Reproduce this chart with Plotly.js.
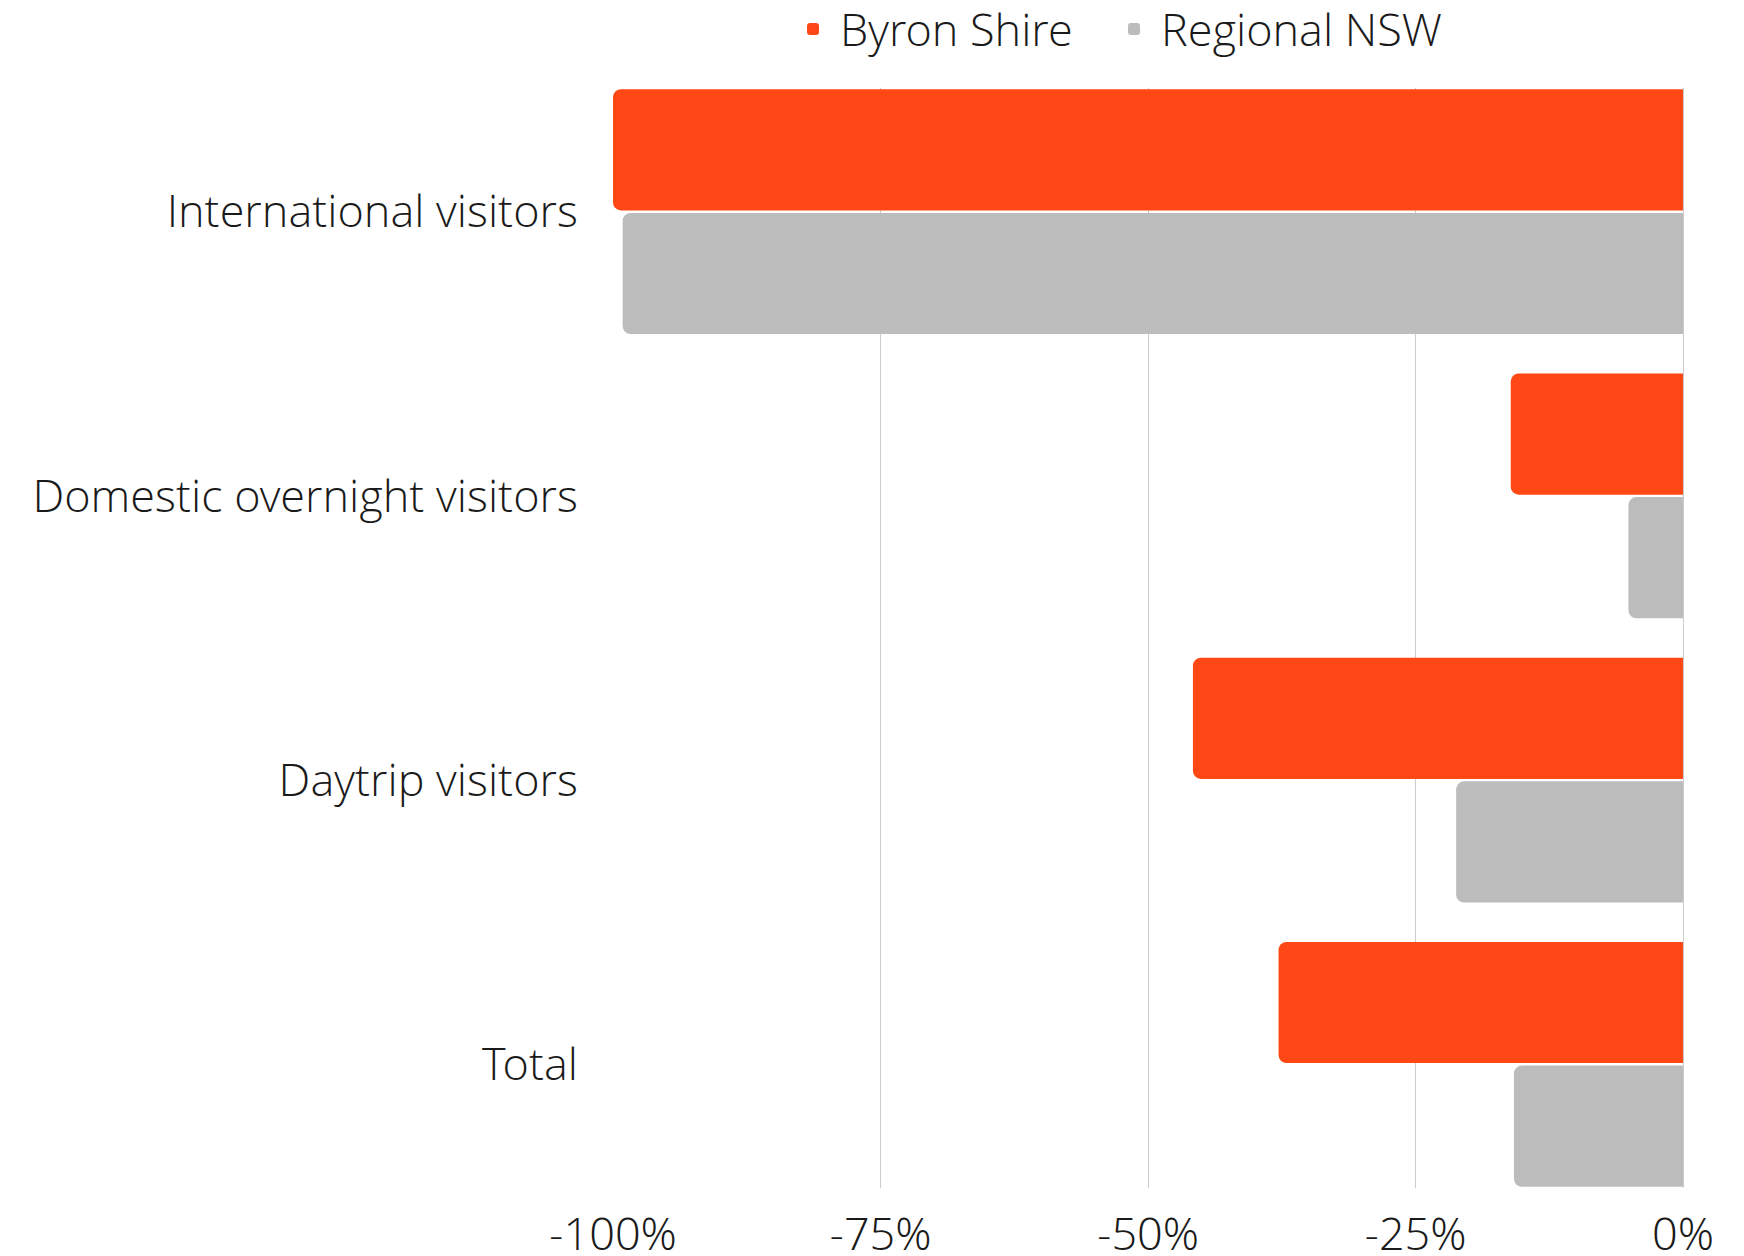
<!DOCTYPE html>
<html>
<head>
<meta charset="utf-8">
<script src="https://cdn.plot.ly/plotly-3.0.1.min.js"></script>
<style>html,body{margin:0;padding:0;background:#fff;}#chart{width:1744px;height:1256px;}</style>
</head>
<body>
<div id="chart"></div>
<script>
const categories = ["International visitors", "Domestic overnight visitors", "Daytrip visitors", "Total"];
const byronShire = [-100, -16.1, -45.8, -37.8];
const regionalNSW = [-99.1, -5.1, -21.2, -15.8];
const xTickVals = [-100, -75, -50, -25, 0];
const xTickText = ["-100%", "-75%", "-50%", "-25%", "0%"];

const FONT = "Open Sans Light, Open Sans, Noto Sans, sans-serif";

const traces = [
  {
    type: "bar", orientation: "h", name: "Byron Shire",
    y: categories, x: byronShire,
    marker: {color: "#FF4815", cornerradius: 8},
    legendwidth: 262,
    hoverinfo: "none"
  },
  {
    type: "bar", orientation: "h", name: "Regional NSW",
    y: categories, x: regionalNSW,
    marker: {color: "#BDBCBD", cornerradius: 8},
    hoverinfo: "none"
  }
];

const layout = {
  width: 1744, height: 1256,
  margin: {l: 613, r: 61, t: 88, b: 68, pad: 0, autoexpand: false},
  paper_bgcolor: "#ffffff", plot_bgcolor: "#ffffff",
  font: {family: FONT, size: 45, color: "#1a1a1a", weight: 300},
  barmode: "group",
  bargap: 0.13,
  bargroupgap: 0.02,
  showlegend: true,
  legend: {
    orientation: "h",
    x: 0.1617, xanchor: "left",
    y: 1.0535, yanchor: "middle",
    font: {family: FONT, size: 45, color: "#1a1a1a", weight: 300},
    itemwidth: 44,
    traceorder: "normal",
    bgcolor: "rgba(0,0,0,0)"
  },
  xaxis: {
    range: [-100, 0],
    tickvals: xTickVals, ticktext: xTickText,
    showgrid: true, gridcolor: "#CCCCCC", gridwidth: 1,
    zeroline: true, zerolinecolor: "#CCCCCC", zerolinewidth: 1,
    showline: false, ticks: "",
    ticklabelstandoff: 16,
    tickfont: {family: FONT, size: 45, color: "#1a1a1a", weight: 300},
    fixedrange: true
  },
  yaxis: {
    type: "category",
    categoryorder: "array", categoryarray: categories,
    range: [3.435, -0.435],
    showgrid: false, zeroline: false, showline: false, ticks: "",
    ticklabelstandoff: 34,
    tickfont: {family: FONT, size: 45, color: "#1a1a1a", weight: 300},
    fixedrange: true
  }
};

Plotly.newPlot("chart", traces, layout, {staticPlot: true, displayModeBar: false});
</script>
</body>
</html>
